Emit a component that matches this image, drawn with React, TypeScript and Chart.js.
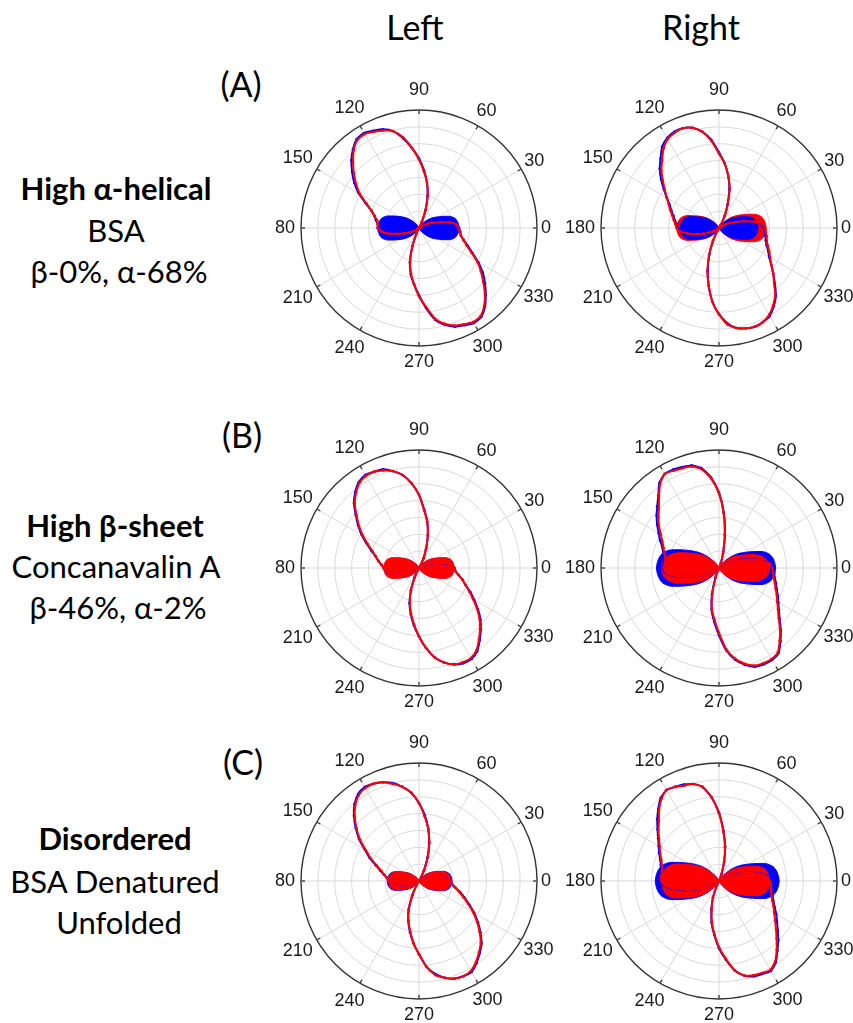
import React, { useEffect, useRef } from 'react';
import { Chart, registerables } from 'chart.js';

Chart.register(...registerables);

// Polar angle of every sample (degrees, counter-clockwise, 0 = right)
const ANGLES_DEG = [
  0, 5, 10, 15, 20, 25, 30, 35, 40, 45, 50, 55,
  60, 65, 70, 75, 80, 85, 90, 95, 100, 105, 110, 115,
  120, 125, 130, 135, 140, 145, 150, 155, 160, 165, 170, 175,
  180, 185, 190, 195, 200, 205, 210, 215, 220, 225, 230, 235,
  240, 245, 250, 255, 260, 265, 270, 275, 280, 285, 290, 295,
  300, 305, 310, 315, 320, 325, 330, 335, 340, 345, 350, 355,
];

// Spoke (angle) tick labels
const SPOKE_ANGLES = [0, 30, 60, 90, 120, 150, 180, 210, 240, 270, 300, 330];
const SPOKE_LABELS = ['0', '30', '60', '90', '120', '150', '180', '210', '240', '270', '300', '330'];

// Radial axis: normalised intensity 0..1 with 7 rings
const R_MIN = 0;
const R_MAX = 1;
const RING_TICK_COUNT = 8;

// ---------- (A) High α-helical, BSA ----------
const A_LEFT_RED_LINE = [
  0.33, 0.32, 0.27, 0.19, 0.13, 0.09, 0.05, 0.02, 0, 0, 0, 0,
  0.01, 0.05, 0.16, 0.29, 0.39, 0.48, 0.58, 0.68, 0.78, 0.85, 0.88, 0.90,
  0.92, 0.91, 0.86, 0.79, 0.72, 0.65, 0.58, 0.49, 0.43, 0.39, 0.36, 0.35,
  0.35, 0.32, 0.27, 0.19, 0.13, 0.09, 0.05, 0.02, 0, 0, 0, 0,
  0.01, 0.05, 0.16, 0.29, 0.39, 0.48, 0.58, 0.67, 0.78, 0.84, 0.88, 0.90,
  0.92, 0.91, 0.86, 0.79, 0.71, 0.64, 0.57, 0.49, 0.43, 0.39, 0.36, 0.35,
];
const A_LEFT_BLUE_LINE = [
  0.34, 0.32, 0.26, 0.19, 0.14, 0.09, 0.05, 0.02, 0, 0, 0, 0,
  0.01, 0.06, 0.16, 0.28, 0.39, 0.49, 0.59, 0.68, 0.77, 0.85, 0.89, 0.91,
  0.93, 0.92, 0.87, 0.81, 0.74, 0.67, 0.59, 0.50, 0.43, 0.39, 0.37, 0.35,
  0.35, 0.33, 0.27, 0.20, 0.13, 0.08, 0.05, 0.02, 0, 0, 0, 0,
  0.01, 0.05, 0.17, 0.30, 0.40, 0.48, 0.57, 0.68, 0.79, 0.85, 0.89, 0.91,
  0.93, 0.92, 0.87, 0.80, 0.73, 0.66, 0.58, 0.50, 0.44, 0.39, 0.36, 0.35,
];
const A_LEFT_RED_BLOB = [
  0.32, 0.317, 0.31, 0.298, 0.269, 0.221, 0.179, 0.147, 0.115, 0.083, 0.051, 0.029,
  0.016, 0.006, 0.003, 0, 0, 0, 0, 0, 0, 0, 0.003, 0.007,
  0.017, 0.03, 0.053, 0.086, 0.119, 0.152, 0.185, 0.228, 0.277, 0.307, 0.32, 0.327,
  0.33, 0.327, 0.32, 0.307, 0.277, 0.228, 0.185, 0.152, 0.119, 0.086, 0.053, 0.03,
  0.017, 0.007, 0.003, 0, 0, 0, 0, 0, 0, 0, 0.003, 0.006,
  0.016, 0.029, 0.051, 0.083, 0.115, 0.147, 0.179, 0.221, 0.269, 0.298, 0.31, 0.317,
];
const A_LEFT_BLUE_BLOB = [
  0.34, 0.337, 0.33, 0.316, 0.286, 0.235, 0.19, 0.156, 0.122, 0.088, 0.054, 0.031,
  0.017, 0.007, 0.003, 0, 0, 0, 0, 0, 0, 0, 0.004, 0.007,
  0.018, 0.032, 0.056, 0.091, 0.126, 0.161, 0.196, 0.242, 0.294, 0.326, 0.34, 0.347,
  0.35, 0.347, 0.34, 0.326, 0.294, 0.242, 0.196, 0.161, 0.126, 0.091, 0.056, 0.032,
  0.018, 0.007, 0.004, 0, 0, 0, 0, 0, 0, 0, 0.003, 0.007,
  0.017, 0.031, 0.054, 0.088, 0.122, 0.156, 0.19, 0.235, 0.286, 0.316, 0.33, 0.337,
];

const A_RIGHT_RED_LINE = [
  0.39, 0.37, 0.31, 0.22, 0.15, 0.10, 0.06, 0.03, 0.01, 0, 0, 0,
  0.03, 0.12, 0.22, 0.35, 0.45, 0.55, 0.63, 0.74, 0.83, 0.88, 0.90, 0.89,
  0.87, 0.82, 0.75, 0.69, 0.62, 0.56, 0.51, 0.47, 0.44, 0.41, 0.39, 0.37,
  0.36, 0.33, 0.27, 0.20, 0.14, 0.09, 0.05, 0.02, 0, 0, 0, 0,
  0.03, 0.12, 0.25, 0.38, 0.50, 0.63, 0.73, 0.82, 0.86, 0.88, 0.89, 0.88,
  0.85, 0.80, 0.74, 0.66, 0.60, 0.54, 0.50, 0.47, 0.44, 0.42, 0.41, 0.40,
];
const A_RIGHT_BLUE_LINE = [
  0.38, 0.36, 0.30, 0.22, 0.16, 0.10, 0.06, 0.03, 0.01, 0, 0, 0,
  0.03, 0.11, 0.21, 0.34, 0.45, 0.55, 0.64, 0.75, 0.83, 0.88, 0.90, 0.90,
  0.88, 0.84, 0.77, 0.71, 0.64, 0.57, 0.51, 0.46, 0.43, 0.40, 0.38, 0.36,
  0.35, 0.32, 0.26, 0.19, 0.13, 0.08, 0.05, 0.02, 0, 0, 0, 0,
  0.03, 0.12, 0.24, 0.37, 0.50, 0.63, 0.73, 0.81, 0.86, 0.88, 0.89, 0.88,
  0.86, 0.81, 0.75, 0.67, 0.60, 0.54, 0.49, 0.46, 0.43, 0.41, 0.40, 0.39,
];
const A_RIGHT_RED_BLOB = [
  0.40, 0.396, 0.388, 0.372, 0.336, 0.276, 0.224, 0.184, 0.144, 0.104, 0.064, 0.036,
  0.02, 0.008, 0.004, 0, 0, 0, 0, 0, 0, 0, 0.004, 0.007,
  0.018, 0.032, 0.058, 0.094, 0.13, 0.166, 0.202, 0.248, 0.302, 0.335, 0.349, 0.356,
  0.36, 0.356, 0.349, 0.335, 0.302, 0.248, 0.202, 0.166, 0.13, 0.094, 0.058, 0.032,
  0.018, 0.007, 0.004, 0, 0, 0, 0, 0, 0, 0, 0.004, 0.008,
  0.02, 0.036, 0.064, 0.104, 0.144, 0.184, 0.224, 0.276, 0.336, 0.372, 0.388, 0.396,
];
const A_RIGHT_BLUE_BLOB = [
  0.33, 0.327, 0.32, 0.307, 0.277, 0.228, 0.185, 0.152, 0.119, 0.086, 0.053, 0.03,
  0.017, 0.007, 0.003, 0, 0, 0, 0, 0, 0, 0, 0.003, 0.007,
  0.017, 0.03, 0.053, 0.086, 0.119, 0.152, 0.185, 0.228, 0.277, 0.307, 0.32, 0.327,
  0.33, 0.327, 0.32, 0.307, 0.277, 0.228, 0.185, 0.152, 0.119, 0.086, 0.053, 0.03,
  0.017, 0.007, 0.003, 0, 0, 0, 0, 0, 0, 0, 0.003, 0.007,
  0.017, 0.03, 0.053, 0.086, 0.119, 0.152, 0.185, 0.228, 0.277, 0.307, 0.32, 0.327,
];

// ---------- (B) High β-sheet, Concanavalin A ----------
const B_LEFT_RED_LINE = [
  0.30, 0.28, 0.23, 0.17, 0.12, 0.08, 0.04, 0.01, 0, 0, 0, 0,
  0.02, 0.09, 0.17, 0.29, 0.40, 0.49, 0.62, 0.72, 0.80, 0.85, 0.88, 0.90,
  0.90, 0.88, 0.83, 0.77, 0.69, 0.62, 0.55, 0.48, 0.42, 0.38, 0.35, 0.32,
  0.30, 0.28, 0.23, 0.17, 0.12, 0.08, 0.04, 0.01, 0, 0, 0, 0,
  0.02, 0.08, 0.20, 0.30, 0.39, 0.48, 0.58, 0.68, 0.77, 0.83, 0.87, 0.88,
  0.88, 0.85, 0.79, 0.73, 0.67, 0.60, 0.53, 0.47, 0.42, 0.38, 0.34, 0.31,
];
const B_LEFT_BLUE_LINE = [
  0.30, 0.28, 0.22, 0.17, 0.12, 0.07, 0.04, 0.01, 0, 0, 0, 0,
  0.02, 0.09, 0.18, 0.29, 0.40, 0.50, 0.62, 0.72, 0.80, 0.85, 0.89, 0.90,
  0.91, 0.89, 0.84, 0.78, 0.70, 0.63, 0.56, 0.49, 0.43, 0.38, 0.35, 0.32,
  0.30, 0.28, 0.23, 0.17, 0.12, 0.08, 0.04, 0.01, 0, 0, 0, 0,
  0.02, 0.09, 0.20, 0.31, 0.40, 0.49, 0.58, 0.68, 0.77, 0.83, 0.87, 0.89,
  0.89, 0.86, 0.80, 0.74, 0.68, 0.61, 0.54, 0.48, 0.42, 0.38, 0.34, 0.31,
];
const B_LEFT_RED_BLOB = [
  0.30, 0.297, 0.291, 0.279, 0.252, 0.207, 0.168, 0.138, 0.108, 0.078, 0.048, 0.027,
  0.015, 0.006, 0.003, 0, 0, 0, 0, 0, 0, 0, 0.003, 0.006,
  0.015, 0.027, 0.048, 0.078, 0.108, 0.138, 0.168, 0.207, 0.252, 0.279, 0.291, 0.297,
  0.30, 0.297, 0.291, 0.279, 0.252, 0.207, 0.168, 0.138, 0.108, 0.078, 0.048, 0.027,
  0.015, 0.006, 0.003, 0, 0, 0, 0, 0, 0, 0, 0.003, 0.006,
  0.015, 0.027, 0.048, 0.078, 0.108, 0.138, 0.168, 0.207, 0.252, 0.279, 0.291, 0.297,
];
const B_LEFT_BLUE_BLOB = [
  0.29, 0.287, 0.281, 0.27, 0.244, 0.2, 0.162, 0.133, 0.104, 0.075, 0.046, 0.026,
  0.015, 0.006, 0.003, 0, 0, 0, 0, 0, 0, 0, 0.003, 0.006,
  0.015, 0.026, 0.046, 0.075, 0.104, 0.133, 0.162, 0.2, 0.244, 0.27, 0.281, 0.287,
  0.29, 0.287, 0.281, 0.27, 0.244, 0.2, 0.162, 0.133, 0.104, 0.075, 0.046, 0.026,
  0.015, 0.006, 0.003, 0, 0, 0, 0, 0, 0, 0, 0.003, 0.006,
  0.015, 0.026, 0.046, 0.075, 0.104, 0.133, 0.162, 0.2, 0.244, 0.27, 0.281, 0.287,
];

const B_RIGHT_RED_LINE = [
  0.45, 0.43, 0.37, 0.28, 0.20, 0.14, 0.09, 0.05, 0.02, 0, 0, 0,
  0, 0, 0.05, 0.13, 0.28, 0.46, 0.63, 0.76, 0.85, 0.89, 0.90, 0.91,
  0.92, 0.87, 0.79, 0.72, 0.67, 0.62, 0.57, 0.53, 0.50, 0.48, 0.46, 0.46,
  0.47, 0.45, 0.38, 0.28, 0.20, 0.14, 0.09, 0.05, 0.02, 0, 0, 0,
  0, 0.02, 0.08, 0.22, 0.35, 0.44, 0.55, 0.69, 0.78, 0.84, 0.88, 0.89,
  0.89, 0.87, 0.80, 0.73, 0.66, 0.61, 0.57, 0.54, 0.51, 0.49, 0.47, 0.46,
];
const B_RIGHT_BLUE_LINE = [
  0.46, 0.44, 0.37, 0.29, 0.21, 0.14, 0.09, 0.05, 0.02, 0, 0, 0,
  0, 0, 0.05, 0.14, 0.29, 0.47, 0.64, 0.77, 0.86, 0.90, 0.91, 0.92,
  0.92, 0.88, 0.80, 0.74, 0.69, 0.64, 0.59, 0.55, 0.51, 0.49, 0.47, 0.47,
  0.48, 0.46, 0.39, 0.29, 0.21, 0.14, 0.09, 0.05, 0.02, 0, 0, 0,
  0, 0.02, 0.09, 0.23, 0.36, 0.46, 0.57, 0.70, 0.79, 0.85, 0.89, 0.90,
  0.90, 0.88, 0.81, 0.74, 0.67, 0.62, 0.58, 0.55, 0.52, 0.50, 0.48, 0.47,
];
const B_RIGHT_RED_BLOB = [
  0.43, 0.424, 0.409, 0.378, 0.331, 0.267, 0.215, 0.176, 0.142, 0.103, 0.065, 0.039,
  0.022, 0.009, 0.004, 0, 0, 0, 0, 0, 0, 0, 0.005, 0.01,
  0.025, 0.044, 0.074, 0.118, 0.162, 0.201, 0.245, 0.304, 0.377, 0.431, 0.466, 0.483,
  0.49, 0.483, 0.466, 0.431, 0.377, 0.304, 0.245, 0.201, 0.162, 0.118, 0.074, 0.044,
  0.025, 0.01, 0.005, 0, 0, 0, 0, 0, 0, 0, 0.004, 0.009,
  0.022, 0.039, 0.065, 0.103, 0.142, 0.176, 0.215, 0.267, 0.331, 0.378, 0.409, 0.424,
];
const B_RIGHT_BLUE_BLOB = [
  0.48, 0.475, 0.466, 0.446, 0.403, 0.331, 0.269, 0.221, 0.173, 0.125, 0.077, 0.043,
  0.024, 0.01, 0.005, 0, 0, 0, 0, 0, 0, 0, 0.005, 0.011,
  0.027, 0.048, 0.085, 0.138, 0.191, 0.244, 0.297, 0.366, 0.445, 0.493, 0.514, 0.525,
  0.53, 0.525, 0.514, 0.493, 0.445, 0.366, 0.297, 0.244, 0.191, 0.138, 0.085, 0.048,
  0.027, 0.011, 0.005, 0, 0, 0, 0, 0, 0, 0, 0.005, 0.01,
  0.024, 0.043, 0.077, 0.125, 0.173, 0.221, 0.269, 0.331, 0.403, 0.446, 0.466, 0.475,
];

// ---------- (C) Disordered, BSA denatured ----------
const C_LEFT_RED_LINE = [
  0.27, 0.25, 0.21, 0.16, 0.11, 0.07, 0.04, 0.01, 0, 0, 0, 0,
  0.02, 0.10, 0.22, 0.34, 0.45, 0.55, 0.66, 0.75, 0.81, 0.85, 0.89, 0.91,
  0.91, 0.89, 0.84, 0.77, 0.69, 0.61, 0.52, 0.45, 0.38, 0.33, 0.30, 0.27,
  0.26, 0.24, 0.19, 0.14, 0.10, 0.06, 0.03, 0.01, 0, 0, 0, 0,
  0.04, 0.14, 0.26, 0.35, 0.43, 0.53, 0.62, 0.73, 0.81, 0.85, 0.88, 0.89,
  0.88, 0.84, 0.79, 0.74, 0.67, 0.60, 0.53, 0.46, 0.40, 0.35, 0.31, 0.28,
];
const C_LEFT_BLUE_LINE = [
  0.27, 0.25, 0.21, 0.16, 0.11, 0.07, 0.04, 0.01, 0, 0, 0, 0,
  0.02, 0.10, 0.21, 0.33, 0.45, 0.56, 0.66, 0.75, 0.81, 0.86, 0.89, 0.91,
  0.92, 0.90, 0.85, 0.78, 0.70, 0.62, 0.53, 0.46, 0.39, 0.34, 0.30, 0.27,
  0.26, 0.24, 0.19, 0.14, 0.10, 0.06, 0.03, 0.01, 0, 0, 0, 0,
  0.04, 0.13, 0.25, 0.35, 0.44, 0.53, 0.62, 0.73, 0.80, 0.85, 0.88, 0.89,
  0.89, 0.85, 0.80, 0.75, 0.68, 0.61, 0.54, 0.47, 0.41, 0.36, 0.31, 0.28,
];
const C_LEFT_RED_BLOB = [
  0.27, 0.267, 0.262, 0.251, 0.227, 0.186, 0.151, 0.124, 0.097, 0.07, 0.043, 0.024,
  0.014, 0.005, 0.003, 0, 0, 0, 0, 0, 0, 0, 0.003, 0.005,
  0.013, 0.023, 0.042, 0.068, 0.094, 0.12, 0.146, 0.179, 0.218, 0.242, 0.252, 0.257,
  0.26, 0.257, 0.252, 0.242, 0.218, 0.179, 0.146, 0.12, 0.094, 0.068, 0.042, 0.023,
  0.013, 0.005, 0.003, 0, 0, 0, 0, 0, 0, 0, 0.003, 0.005,
  0.014, 0.024, 0.043, 0.07, 0.097, 0.124, 0.151, 0.186, 0.227, 0.251, 0.262, 0.267,
];
const C_LEFT_BLUE_BLOB = [
  0.28, 0.277, 0.272, 0.26, 0.235, 0.193, 0.157, 0.129, 0.101, 0.073, 0.045, 0.025,
  0.014, 0.006, 0.003, 0, 0, 0, 0, 0, 0, 0, 0.003, 0.005,
  0.014, 0.024, 0.043, 0.07, 0.097, 0.124, 0.151, 0.186, 0.227, 0.251, 0.262, 0.267,
  0.27, 0.267, 0.262, 0.251, 0.227, 0.186, 0.151, 0.124, 0.097, 0.07, 0.043, 0.024,
  0.014, 0.005, 0.003, 0, 0, 0, 0, 0, 0, 0, 0.003, 0.006,
  0.014, 0.025, 0.045, 0.073, 0.101, 0.129, 0.157, 0.193, 0.235, 0.26, 0.272, 0.277,
];

const C_RIGHT_RED_LINE = [
  0.43, 0.41, 0.35, 0.27, 0.20, 0.14, 0.09, 0.05, 0.02, 0, 0, 0,
  0, 0, 0.05, 0.16, 0.29, 0.42, 0.57, 0.71, 0.81, 0.85, 0.86, 0.88,
  0.89, 0.85, 0.79, 0.72, 0.67, 0.62, 0.58, 0.55, 0.52, 0.50, 0.49, 0.49,
  0.49, 0.46, 0.38, 0.29, 0.21, 0.15, 0.10, 0.06, 0.03, 0.01, 0, 0,
  0, 0.04, 0.15, 0.24, 0.35, 0.45, 0.56, 0.66, 0.77, 0.83, 0.85, 0.86,
  0.87, 0.83, 0.76, 0.69, 0.63, 0.58, 0.54, 0.51, 0.48, 0.46, 0.45, 0.44,
];
const C_RIGHT_BLUE_LINE = [
  0.45, 0.42, 0.36, 0.28, 0.20, 0.14, 0.09, 0.05, 0.02, 0, 0, 0,
  0, 0, 0.06, 0.17, 0.30, 0.43, 0.58, 0.71, 0.81, 0.85, 0.87, 0.88,
  0.89, 0.86, 0.80, 0.74, 0.68, 0.63, 0.59, 0.56, 0.53, 0.51, 0.50, 0.50,
  0.50, 0.47, 0.39, 0.30, 0.22, 0.15, 0.10, 0.06, 0.03, 0.01, 0, 0,
  0, 0.04, 0.15, 0.25, 0.36, 0.46, 0.57, 0.67, 0.77, 0.83, 0.86, 0.87,
  0.88, 0.84, 0.77, 0.71, 0.65, 0.60, 0.56, 0.52, 0.49, 0.47, 0.46, 0.45,
];
const C_RIGHT_RED_BLOB = [
  0.43, 0.426, 0.417, 0.40, 0.361, 0.297, 0.241, 0.198, 0.155, 0.112, 0.069, 0.039,
  0.022, 0.009, 0.004, 0, 0, 0, 0, 0, 0, 0, 0.005, 0.01,
  0.025, 0.044, 0.078, 0.127, 0.176, 0.225, 0.274, 0.338, 0.412, 0.456, 0.475, 0.485,
  0.49, 0.485, 0.475, 0.456, 0.412, 0.338, 0.274, 0.225, 0.176, 0.127, 0.078, 0.044,
  0.025, 0.01, 0.005, 0, 0, 0, 0, 0, 0, 0, 0.004, 0.009,
  0.022, 0.039, 0.069, 0.112, 0.155, 0.198, 0.241, 0.297, 0.361, 0.40, 0.417, 0.426,
];
const C_RIGHT_BLUE_BLOB = [
  0.51, 0.505, 0.495, 0.474, 0.428, 0.352, 0.286, 0.235, 0.184, 0.133, 0.082, 0.046,
  0.026, 0.01, 0.005, 0, 0, 0, 0, 0, 0, 0, 0.005, 0.011,
  0.027, 0.049, 0.086, 0.14, 0.194, 0.248, 0.302, 0.373, 0.454, 0.502, 0.524, 0.535,
  0.54, 0.535, 0.524, 0.502, 0.454, 0.373, 0.302, 0.248, 0.194, 0.14, 0.086, 0.049,
  0.027, 0.011, 0.005, 0, 0, 0, 0, 0, 0, 0, 0.005, 0.01,
  0.026, 0.046, 0.082, 0.133, 0.184, 0.235, 0.286, 0.352, 0.428, 0.474, 0.495, 0.505,
];

// ---------- styling / layout ----------
const RED = '#ff0000';
const BLUE = '#0000ff';
const RADIUS_PX = 118;
const SPOKE_LABEL_GAP_PX = [9, 15, 17, 20, 21, 22, 21, 22, 21, 16, 19, 20];
const STEP_DEG = 5;

type Layer = { values: number[]; color: string; kind: 'line' | 'blob' };
type Panel = { key: string; cx: number; cy: number; side: 'left' | 'right'; layers: Layer[] };

// layers are listed bottom -> top
const PANELS: Panel[] = [
  {
    key: 'A-left', cx: 419, cy: 228, side: 'left',
    layers: [
      { values: A_LEFT_RED_BLOB, color: RED, kind: 'blob' },
      { values: A_LEFT_BLUE_BLOB, color: BLUE, kind: 'blob' },
      { values: A_LEFT_BLUE_LINE, color: BLUE, kind: 'line' },
      { values: A_LEFT_RED_LINE, color: RED, kind: 'line' },
    ],
  },
  {
    key: 'A-right', cx: 719, cy: 228, side: 'right',
    layers: [
      { values: A_RIGHT_RED_BLOB, color: RED, kind: 'blob' },
      { values: A_RIGHT_BLUE_BLOB, color: BLUE, kind: 'blob' },
      { values: A_RIGHT_BLUE_LINE, color: BLUE, kind: 'line' },
      { values: A_RIGHT_RED_LINE, color: RED, kind: 'line' },
    ],
  },
  {
    key: 'B-left', cx: 419, cy: 568, side: 'left',
    layers: [
      { values: B_LEFT_BLUE_BLOB, color: BLUE, kind: 'blob' },
      { values: B_LEFT_RED_BLOB, color: RED, kind: 'blob' },
      { values: B_LEFT_BLUE_LINE, color: BLUE, kind: 'line' },
      { values: B_LEFT_RED_LINE, color: RED, kind: 'line' },
    ],
  },
  {
    key: 'B-right', cx: 719, cy: 568, side: 'right',
    layers: [
      { values: B_RIGHT_BLUE_BLOB, color: BLUE, kind: 'blob' },
      { values: B_RIGHT_RED_BLOB, color: RED, kind: 'blob' },
      { values: B_RIGHT_BLUE_LINE, color: BLUE, kind: 'line' },
      { values: B_RIGHT_RED_LINE, color: RED, kind: 'line' },
    ],
  },
  {
    key: 'C-left', cx: 419, cy: 881, side: 'left',
    layers: [
      { values: C_LEFT_BLUE_BLOB, color: BLUE, kind: 'blob' },
      { values: C_LEFT_RED_BLOB, color: RED, kind: 'blob' },
      { values: C_LEFT_BLUE_LINE, color: BLUE, kind: 'line' },
      { values: C_LEFT_RED_LINE, color: RED, kind: 'line' },
    ],
  },
  {
    key: 'C-right', cx: 719, cy: 881, side: 'right',
    layers: [
      { values: C_RIGHT_BLUE_BLOB, color: BLUE, kind: 'blob' },
      { values: C_RIGHT_RED_BLOB, color: RED, kind: 'blob' },
      { values: C_RIGHT_BLUE_LINE, color: BLUE, kind: 'line' },
      { values: C_RIGHT_RED_LINE, color: RED, kind: 'line' },
    ],
  },
];

// Radar indices run clockwise from the start angle; re-order so the angle runs counter-clockwise.
function toRadarOrder<T>(values: T[]): T[] {
  const n = values.length;
  return values.map((_, i) => values[(n - i) % n]);
}

const spokeLabelPlugin = {
  id: 'spokeLabels',
  afterDraw(chart: any) {
    const scale = chart.scales.r;
    const ctx = chart.ctx as CanvasRenderingContext2D;
    const R = scale.drawingArea;
    ctx.save();
    ctx.strokeStyle = '#333333';
    ctx.lineWidth = 1.3;
    ctx.fillStyle = '#1a1a1a';
    ctx.font = '18px "Liberation Sans", Arial, sans-serif';
    ctx.textAlign = 'center';
    ctx.textBaseline = 'middle';
    SPOKE_ANGLES.forEach((deg, k) => {
      const idx = ((360 - deg) % 360) / STEP_DEG;
      const a = scale.getPointPosition(idx, R - 4);
      const b = scale.getPointPosition(idx, R);
      ctx.beginPath();
      ctx.moveTo(a.x, a.y);
      ctx.lineTo(b.x, b.y);
      ctx.stroke();
      const p = scale.getPointPosition(idx, R + SPOKE_LABEL_GAP_PX[k]);
      ctx.fillText(SPOKE_LABELS[k], p.x, p.y);
    });
    ctx.restore();
  },
};

function PolarPanel({ panel }: { panel: Panel }) {
  const ref = useRef<HTMLCanvasElement | null>(null);
  const padLeft = panel.side === 'left' ? 27 : 42;
  const padRight = panel.side === 'left' ? 32 : 42;
  const width = padLeft + padRight + 2 * RADIUS_PX;
  const height = 64 + 2 * RADIUS_PX;

  useEffect(() => {
    const canvas = ref.current;
    if (!canvas) return;
    const n = panel.layers.length;
    const datasets = panel.layers.map((layer, i) => {
      const common = {
        data: toRadarOrder(layer.values),
        borderColor: layer.color,
        order: n - i,
        tension: 0.2,
      };
      if (layer.kind === 'blob') {
        return {
          ...common,
          backgroundColor: layer.color,
          fill: true,
          borderWidth: 1,
          pointRadius: 0,
        };
      }
      return {
        ...common,
        backgroundColor: layer.color,
        fill: false,
        borderWidth: 2,
        pointRadius: 1.3,
        pointBorderWidth: 0,
        pointBackgroundColor: layer.color,
      };
    });

    const chart = new Chart(canvas, {
      type: 'radar',
      data: {
        labels: toRadarOrder(ANGLES_DEG).map((d) => String(d)),
        datasets: datasets as any,
      },
      options: {
        responsive: false,
        animation: false,
        devicePixelRatio: 1,
        events: [],
        layout: { padding: { left: padLeft, right: padRight, top: 32, bottom: 32 } },
        plugins: { legend: { display: false }, tooltip: { enabled: false } },
        scales: {
          r: {
            min: R_MIN,
            max: R_MAX,
            startAngle: 90,
            ticks: { display: false, count: RING_TICK_COUNT },
            pointLabels: { display: false },
            grid: {
              circular: true,
              color: (c: any) => (c.index === RING_TICK_COUNT - 1 ? '#333333' : '#d9d9d9'),
              lineWidth: (c: any) => (c.index === RING_TICK_COUNT - 1 ? 1.4 : 1),
            },
            angleLines: {
              display: true,
              color: (c: any) => (c.index % 6 === 0 ? '#d9d9d9' : 'rgba(0,0,0,0)'),
              lineWidth: (c: any) => (c.index % 6 === 0 ? 1 : 0),
            },
          },
        },
      } as any,
      plugins: [spokeLabelPlugin],
    });
    return () => chart.destroy();
  }, [panel]);

  return (
    <canvas
      ref={ref}
      width={width}
      height={height}
      style={{
        position: 'absolute',
        left: panel.cx - padLeft - RADIUS_PX,
        top: panel.cy - 32 - RADIUS_PX,
        width,
        height,
        display: 'block',
      }}
    />
  );
}

const TEXT_FONT = 'Lato, "Noto Sans", "DejaVu Sans", sans-serif';

function Txt({ x, baseline, size, bold, children }: { x: number; baseline: number; size: number; bold?: boolean; children: React.ReactNode }) {
  return (
    <div
      style={{
        position: 'absolute',
        left: x - 200,
        width: 400,
        top: baseline - 0.887 * size,
        textAlign: 'center',
        fontSize: size,
        lineHeight: `${size}px`,
        fontWeight: bold ? 700 : 400,
        whiteSpace: 'nowrap',
        fontFamily: TEXT_FONT,
        color: '#000',
      }}
    >
      {children}
    </div>
  );
}

export default function App() {
  return (
    <div
      style={{
        position: 'absolute',
        left: 0,
        top: 0,
        width: 853,
        height: 1023,
        overflow: 'hidden',
        background: '#ffffff',
      }}
    >
      <Txt x={415} baseline={40} size={34}>Left</Txt>
      <Txt x={701} baseline={40} size={34}>Right</Txt>

      <Txt x={241} baseline={97} size={34}>(A)</Txt>
      <Txt x={242} baseline={448} size={34}>(B)</Txt>
      <Txt x={243} baseline={775} size={34}>(C)</Txt>

      <Txt x={116} baseline={200} size={31} bold>High α-helical</Txt>
      <Txt x={116} baseline={242} size={31}>BSA</Txt>
      <Txt x={119} baseline={283} size={31}>β-0%, α-68%</Txt>

      <Txt x={115} baseline={537} size={31} bold>High β-sheet</Txt>
      <Txt x={116} baseline={578} size={31}>Concanavalin A</Txt>
      <Txt x={118} baseline={619} size={31}>β-46%, α-2%</Txt>

      <Txt x={115} baseline={850} size={31} bold>Disordered</Txt>
      <Txt x={115} baseline={893} size={31}>BSA Denatured</Txt>
      <Txt x={119} baseline={934} size={31}>Unfolded</Txt>

      {PANELS.map((p) => (
        <PolarPanel key={p.key} panel={p} />
      ))}
    </div>
  );
}
